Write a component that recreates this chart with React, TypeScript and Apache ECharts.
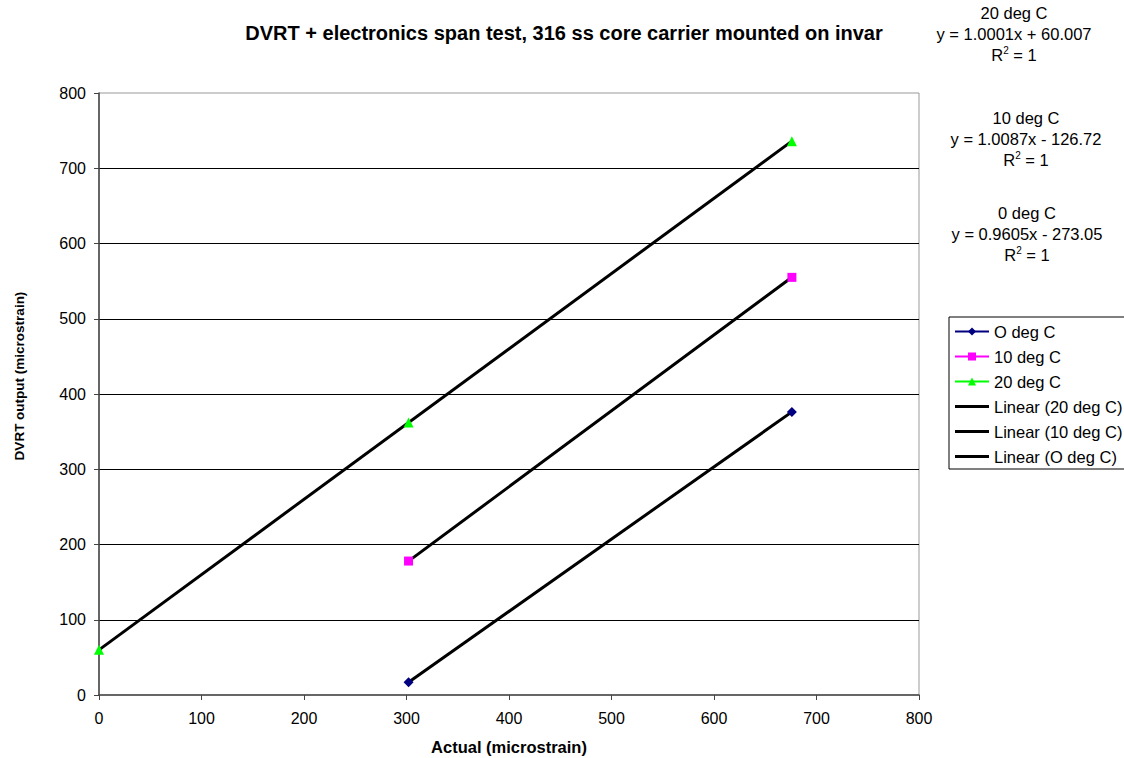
import React, { useEffect, useRef } from "react";
import * as echarts from "echarts";

const FONT = "'Liberation Sans', Arial, sans-serif";

// Data
const actual20 = [0, 302, 676];
const dvrt20 = [60, 362, 736];
const actual10 = [302, 676];
const dvrt10 = [178, 555];
const actual0 = [302, 676];
const dvrt0 = [17, 376];

// Trend line end points (fitted lines)
const trendX20 = [0, 676];
const trendY20 = [60.007, 736.1];
const trendX10 = [302, 676];
const trendY10 = [177.9, 555.2];
const trendX0 = [302, 676];
const trendY0 = [17.0, 376.25];

const xTicks = [0, 100, 200, 300, 400, 500, 600, 700, 800];
const yTicks = [0, 100, 200, 300, 400, 500, 600, 700, 800];

const annotations = [
  { name: "20 deg C", eq: "y = 1.0001x + 60.007", r2: "1" },
  { name: "10 deg C", eq: "y = 1.0087x - 126.72", r2: "1" },
  { name: "0 deg C", eq: "y = 0.9605x - 273.05", r2: "1" },
];

const zip = (xs: number[], ys: number[]) => xs.map((x, i) => [x, ys[i]]);

export default function App() {
  const ref = useRef<HTMLDivElement>(null);
  useEffect(() => {
    if (!ref.current) return;
    const chart = echarts.init(ref.current, null, { renderer: "svg" });
    const annX = [1014, 1026, 1027];
    const annY = [13, 118, 213];
    const graphics: any[] = [
      {
        type: "text",
        x: 564,
        y: 33,
        style: {
          text: "DVRT + electronics span test, 316 ss core carrier mounted on invar",
          fontFamily: FONT,
          fontSize: 20,
          fontWeight: "bold",
          fill: "#000",
          textAlign: "center",
          textVerticalAlign: "middle",
        },
      },
      {
        type: "text",
        x: 509,
        y: 747,
        style: {
          text: "Actual (microstrain)",
          fontFamily: FONT,
          fontSize: 16.5,
          fontWeight: "bold",
          fill: "#000",
          textAlign: "center",
          textVerticalAlign: "middle",
        },
      },
      {
        type: "text",
        x: 19,
        y: 376,
        rotation: Math.PI / 2,
        style: {
          text: "DVRT output (microstrain)",
          fontFamily: FONT,
          fontSize: 13.5,
          fontWeight: "bold",
          fill: "#000",
          textAlign: "center",
          textVerticalAlign: "middle",
        },
      },
    ];
    annotations.forEach((a, i) => {
      const lines = [a.name, a.eq];
      lines.forEach((t, j) => {
        graphics.push({
          type: "text",
          x: annX[i],
          y: annY[i] + j * 21,
          style: {
            text: t,
            fontFamily: FONT,
            fontSize: 16.5,
            fill: "#000",
            textAlign: "center",
            textVerticalAlign: "middle",
          },
        });
      });
      graphics.push({
        type: "text",
        x: annX[i],
        y: annY[i] + 42,
        style: {
          text: "{a|R}{b|2}{a| = " + a.r2 + "}",
          fill: "#000",
          textAlign: "center",
          textVerticalAlign: "middle",
          rich: {
            a: { fontFamily: FONT, fontSize: 16.5, fill: "#000", lineHeight: 19 },
            b: { fontFamily: FONT, fontSize: 10, fill: "#000", verticalAlign: "top", lineHeight: 12 },
          },
        },
      });
    });

    const trendIcon = "path://M0,0H36V3H0Z";
    const axisColor = "#444";
    chart.setOption({
      animation: false,
      backgroundColor: "#fff",
      grid: {
        left: 99,
        right: 205,
        top: 93,
        bottom: 63,
        show: true,
        borderColor: "#999",
        borderWidth: 1,
        backgroundColor: "transparent",
      },
      xAxis: {
        type: "value",
        min: xTicks[0],
        max: xTicks[xTicks.length - 1],
        interval: xTicks[1] - xTicks[0],
        axisLine: { show: true, onZero: false, lineStyle: { color: axisColor, width: 1.5 } },
        axisTick: { show: true, length: 5, lineStyle: { color: axisColor } },
        axisLabel: { fontFamily: FONT, fontSize: 16, color: "#000", margin: 15 },
        splitLine: { show: false },
      },
      yAxis: {
        type: "value",
        min: yTicks[0],
        max: yTicks[yTicks.length - 1],
        interval: yTicks[1] - yTicks[0],
        axisLine: { show: true, onZero: false, lineStyle: { color: axisColor, width: 1.5 } },
        axisTick: { show: true, length: 5, lineStyle: { color: axisColor } },
        axisLabel: { fontFamily: FONT, fontSize: 16, color: "#000", margin: 13 },
        splitLine: {
          show: true,
          showMinLine: false,
          showMaxLine: false,
          lineStyle: { color: "#000", width: 1 },
        },
      },
      legend: {
        orient: "vertical",
        left: 949,
        top: 317,
        padding: [5, 14, 3, 5],
        borderColor: "#000",
        borderWidth: 1,
        backgroundColor: "#fff",
        itemWidth: 34,
        itemHeight: 10,
        itemGap: 6,
        textStyle: { fontFamily: FONT, fontSize: 16.5, color: "#000", lineHeight: 19 },
        selectedMode: false,
        data: [
          { name: "O deg C" },
          { name: "10 deg C" },
          { name: "20 deg C" },
          { name: "Linear (20 deg C)", icon: trendIcon },
          { name: "Linear (10 deg C)", icon: trendIcon },
          { name: "Linear (O deg C)", icon: trendIcon },
        ],
      },
      graphic: graphics,
      series: [
        {
          name: "O deg C",
          type: "line",
          data: zip(actual0, dvrt0),
          symbol: "diamond",
          symbolSize: 10,
          itemStyle: { color: "#000080" },
          lineStyle: { color: "#000080", width: 1.5 },
        },
        {
          name: "10 deg C",
          type: "line",
          data: zip(actual10, dvrt10),
          symbol: "rect",
          symbolSize: 9,
          itemStyle: { color: "#FF00FF" },
          lineStyle: { color: "#FF00FF", width: 1.5 },
        },
        {
          name: "20 deg C",
          type: "line",
          data: zip(actual20, dvrt20),
          symbol: "triangle",
          symbolSize: 10,
          itemStyle: { color: "#00FF00" },
          lineStyle: { color: "#00FF00", width: 1.5 },
        },
        {
          name: "Linear (20 deg C)",
          type: "line",
          data: zip(trendX20, trendY20),
          symbol: "none",
          itemStyle: { color: "#000" },
          lineStyle: { color: "#000", width: 3 },
        },
        {
          name: "Linear (10 deg C)",
          type: "line",
          data: zip(trendX10, trendY10),
          symbol: "none",
          itemStyle: { color: "#000" },
          lineStyle: { color: "#000", width: 3 },
        },
        {
          name: "Linear (O deg C)",
          type: "line",
          data: zip(trendX0, trendY0),
          symbol: "none",
          itemStyle: { color: "#000" },
          lineStyle: { color: "#000", width: 3 },
        },
      ],
    });
    return () => chart.dispose();
  }, []);
  return (
    <div
      ref={ref}
      style={{ position: "absolute", left: 0, top: 0, width: 1124, height: 758, background: "#fff" }}
    />
  );
}
